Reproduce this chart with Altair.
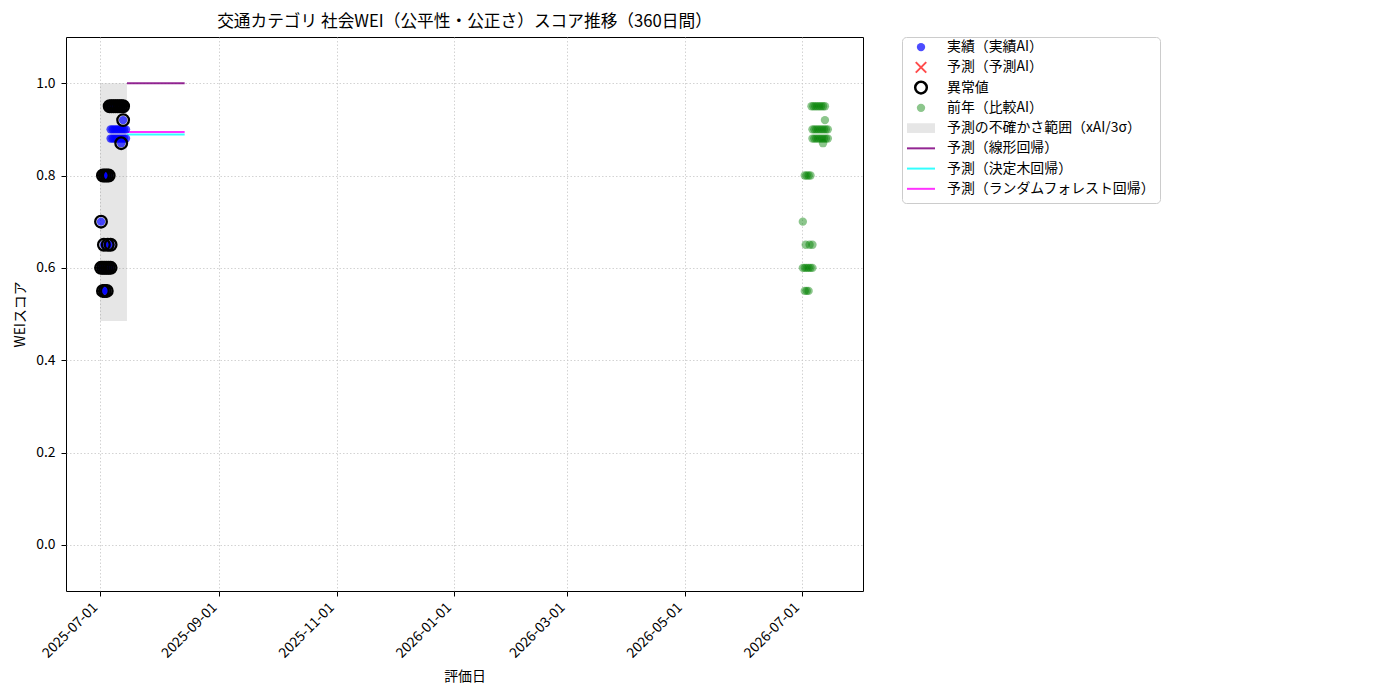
import altair as alt
import pandas as pd

FONT = "Noto Sans CJK JP"

# ---- data ----
# actual (current) evaluations: day offset from 2025-07-01, WEI score, anomaly flag
act_offsets = [5, 6, 7, 8, 9, 10, 11, 12,
               12,
               5.5, 6.5, 7.5, 8.5, 9.5, 10.5, 11.5, 12.5, 13.5,
               5.5, 6.5, 7.5, 8.5, 9.5, 10.5, 11.5, 12.5, 13.5,
               11,
               1.5, 2.5, 3.5, 4.5,
               0.5,
               2, 4, 5.5,
               0.5, 1.5, 2.5, 3.5, 4.5, 5.5,
               1.5, 2.5, 3.5]
act_values = [0.95] * 8 + [0.92] + [0.90] * 9 + [0.88] * 9 + [0.87] + [0.80] * 4 + [0.70] + [0.65] * 3 + [0.60] * 6 + [0.55] * 3
act_anomaly = [True] * 8 + [True] + [False] * 9 + [False] * 9 + [True] + [True] * 4 + [True] + [True] * 3 + [True] * 6 + [True] * 3

# previous-year (comparison AI) points: day offset from 2026-07-01
prev_offsets = list(act_offsets)
prev_values = list(act_values)

# uncertainty band
band_dates = ["2025-07-01T00:00:00Z", "2025-07-15T00:00:00Z"]
band_low, band_high = 0.485, 1.0

# prediction lines
pred_dates = ["2025-07-15T00:00:00Z", "2025-08-14T00:00:00Z"]
pred_linear = [1.0, 1.0]
pred_tree = [0.889, 0.889]
pred_forest = [0.894, 0.894]

x_ticks = ["2025-07-01", "2025-09-01", "2025-11-01", "2026-01-01",
           "2026-03-01", "2026-05-01", "2026-07-01"]
y_ticks = [0.0, 0.2, 0.4, 0.6, 0.8, 1.0]

legend_labels = ["実績（実績AI）", "予測（予測AI）", "異常値", "前年（比較AI）",
                 "予測の不確かさ範囲（xAI/3σ）", "予測（線形回帰）",
                 "予測（決定木回帰）", "予測（ランダムフォレスト回帰）"]

TITLE = "交通カテゴリ 社会WEI（公平性・公正さ）スコア推移（360日間）"

# ---- frames ----
def iso(base, offs):
    b = pd.Timestamp(base, tz="UTC")
    return [(b + pd.Timedelta(days=o)).strftime("%Y-%m-%dT%H:%M:%SZ") for o in offs]

act_df = pd.DataFrame({"date": iso("2025-07-01", act_offsets), "value": act_values,
                       "anomaly": act_anomaly})
prev_df = pd.DataFrame({"date": iso("2026-07-01", prev_offsets), "value": prev_values})
band_df = pd.DataFrame({"date": [band_dates[0]], "date2": [band_dates[1]],
                        "value": [band_low], "value2": [band_high]})

def dt(s, h=0):
    y, m, d = [int(p) for p in s.split("-")]
    return alt.DateTime(year=y, month=m, date=d, hours=h, utc=True)

X = alt.X("date:T", title="評価日",
          scale=alt.Scale(type="utc", domain=[dt("2025-06-13", 7), dt("2026-08-01", 19)]),
          axis=alt.Axis(values=[dt(t) for t in x_ticks], format="%Y-%m-%d",
                        labelAngle=-45, labelAlign="right", labelBaseline="bottom",
                        labelPadding=14, titlePadding=9))
Y = alt.Y("value:Q", title="WEIスコア",
          scale=alt.Scale(domain=[-0.1, 1.1], nice=False, zero=False),
          axis=alt.Axis(values=y_ticks, format=".1f", labelPadding=6, titlePadding=8))

band = alt.Chart(band_df).mark_rect(color="gray", opacity=0.2).encode(
    x=X, x2="date2:T", y=Y, y2="value2:Q")

lines = []
for vals, col, op in [(pred_linear, "purple", 0.85), (pred_tree, "cyan", 0.8),
                      (pred_forest, "magenta", 0.8)]:
    d = pd.DataFrame({"date": pred_dates, "value": vals})
    lines.append(alt.Chart(d).mark_line(color=col, opacity=op, strokeWidth=2).encode(x=X, y=Y))

green = alt.Chart(prev_df).mark_circle(color="green", opacity=0.45, size=70).encode(x=X, y=Y)
blue = alt.Chart(act_df).mark_circle(color="blue", opacity=0.7, size=70).encode(x=X, y=Y)
anom = alt.Chart(act_df).transform_filter("datum.anomaly").mark_point(
    shape="circle", filled=False, color="black", strokeWidth=2.3, size=135, opacity=1
).encode(x=X, y=Y)

title_params = dict(fontSize=16.7, font=FONT, fontWeight="normal", anchor="middle",
                    offset=6, color="black")

main = alt.layer(band, *lines, green, blue, anom).properties(
    width=797, height=554,
    title=alt.TitleParams(TITLE, **title_params),
    view=alt.ViewBackground(stroke="black", strokeWidth=1))

# ---- legend panel ----
leg_df = pd.DataFrame({"idx": list(range(len(legend_labels))), "label": legend_labels})
LSCALE = alt.Scale(domain=[-0.5, 7.7], reverse=True, nice=False, zero=False)
LY = alt.Y("idx:Q", scale=LSCALE, axis=None)
lbase = alt.Chart(leg_df)

l_text = lbase.mark_text(align="left", baseline="middle", font=FONT, fontSize=13.9,
                         color="black").encode(x=alt.value(45), y=LY, text="label:N")
l_blue = lbase.transform_filter("datum.idx == 0").mark_circle(
    color="blue", opacity=0.7, size=70).encode(x=alt.value(19), y=LY)
l_x = lbase.transform_filter("datum.idx == 1").mark_point(
    shape="M-1,-1L1,1M-1,1L1,-1", filled=False, color="red", opacity=0.7,
    strokeWidth=2, size=110).encode(x=alt.value(19), y=LY)
l_anom = lbase.transform_filter("datum.idx == 2").mark_point(
    shape="circle", filled=False, color="black", strokeWidth=2.5, size=135,
    opacity=1).encode(x=alt.value(19), y=LY)
l_green = lbase.transform_filter("datum.idx == 3").mark_circle(
    color="green", opacity=0.45, size=70).encode(x=alt.value(19), y=LY)
l_band = lbase.transform_filter("datum.idx == 4").transform_calculate(
    y0="datum.idx - 0.24", y1="datum.idx + 0.24").mark_rect(
    color="gray", opacity=0.2).encode(
    x=alt.value(5), x2=alt.value(33),
    y=alt.Y("y0:Q", scale=LSCALE, axis=None), y2="y1:Q")
l_lines = []
for i, col, op in [(5, "purple", 0.85), (6, "cyan", 0.8), (7, "magenta", 0.8)]:
    l_lines.append(lbase.transform_filter(f"datum.idx == {i}").mark_rule(
        color=col, opacity=op, strokeWidth=2).encode(
        x=alt.value(5), x2=alt.value(33), y=LY))

legend = alt.layer(l_band, *l_lines, l_blue, l_x, l_anom, l_green, l_text).properties(
    width=258, height=166,
    title=alt.TitleParams(" ", **title_params),
    view=alt.ViewBackground(stroke="#cccccc", strokeWidth=1, cornerRadius=4, fill="white"))

chart = alt.hconcat(main, legend, spacing=37).configure(
    font=FONT
).configure_axis(
    labelFont=FONT, titleFont=FONT, labelFontSize=13.9, titleFontSize=13.9,
    labelColor="black", titleColor="black", titleFontWeight="normal",
    tickColor="black", tickSize=5, domain=False,
    grid=True, gridColor="#c8c8c8", gridDash=[1.5, 2], gridWidth=0.8
)

chart.save("out.html", embed_options={"renderer": "svg", "actions": False})
